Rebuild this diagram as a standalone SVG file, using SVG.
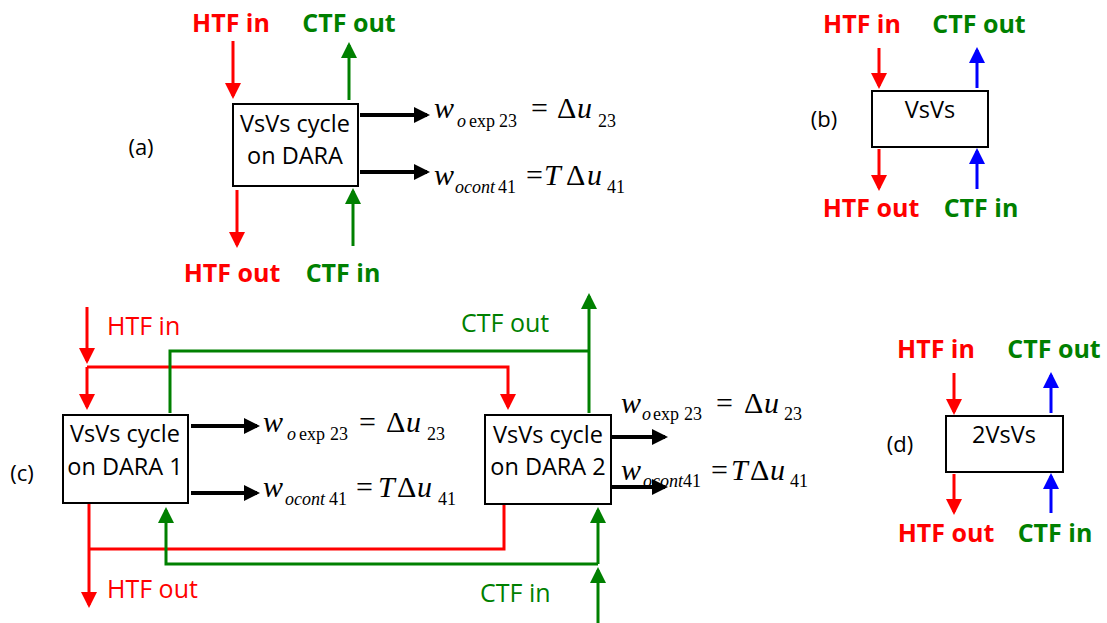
<svg xmlns="http://www.w3.org/2000/svg" width="1107" height="623" viewBox="0 0 1107 623">
<style>
.box{fill:#fff;stroke:#000;stroke-width:2}
.bt{font-family:"Open Sans","Noto Sans",sans-serif;font-size:23.5px;fill:#000;text-anchor:middle}
.lb{font-family:"Open Sans","Noto Sans",sans-serif;font-size:22px;fill:#000;text-anchor:middle}
.hb{font-family:"Open Sans","Noto Sans",sans-serif;font-size:25px;font-weight:bold;fill:#ff0000;text-anchor:middle}
.cb{font-family:"Open Sans","Noto Sans",sans-serif;font-size:25px;font-weight:bold;fill:#008000;text-anchor:middle}
.hr{font-family:"Open Sans","Noto Sans",sans-serif;font-size:25px;fill:#ff0000}
.cr{font-family:"Open Sans","Noto Sans",sans-serif;font-size:25px;fill:#008000}
.m{font-family:"Liberation Serif","Times New Roman",serif;font-size:30px;fill:#000}
.s{font-size:18px}
.i{font-style:italic}
.r{fill:none;stroke:#ff0000;stroke-width:3}
.g{fill:none;stroke:#008000;stroke-width:3}
.b{fill:none;stroke:#0000ff;stroke-width:3}
.k{fill:none;stroke:#000;stroke-width:4}
</style>
<defs>
<marker id="ar" markerUnits="userSpaceOnUse" markerWidth="16" markerHeight="16" viewBox="0 0 16 16" refX="13" refY="8" orient="auto"><path d="M0,0 L16,8 L0,16 z" fill="#ff0000"/></marker>
<marker id="ag" markerUnits="userSpaceOnUse" markerWidth="16" markerHeight="16" viewBox="0 0 16 16" refX="13" refY="8" orient="auto"><path d="M0,0 L16,8 L0,16 z" fill="#008000"/></marker>
<marker id="ab" markerUnits="userSpaceOnUse" markerWidth="16" markerHeight="16" viewBox="0 0 16 16" refX="13" refY="8" orient="auto"><path d="M0,0 L16,8 L0,16 z" fill="#0000ff"/></marker>
<marker id="ak" markerUnits="userSpaceOnUse" markerWidth="16" markerHeight="16" viewBox="0 0 16 16" refX="13" refY="8" orient="auto"><path d="M0,0 L16,8 L0,16 z" fill="#000"/></marker>
</defs>
<rect width="1107" height="623" fill="#fff"/>

<g id="connectors">
<!-- (a) -->
<path class="r" d="M233,41 V96" marker-end="url(#ar)"/>
<path class="g" d="M349,100 V45" marker-end="url(#ag)"/>
<path class="k" d="M360,115 H427" marker-end="url(#ak)"/>
<path class="k" d="M360,172 H427" marker-end="url(#ak)"/>
<path class="r" d="M237,190 V245" marker-end="url(#ar)"/>
<path class="g" d="M353,246 V191" marker-end="url(#ag)"/>
<!-- (b) -->
<path class="r" d="M879,48 V86" marker-end="url(#ar)"/>
<path class="b" d="M977,88 V50" marker-end="url(#ab)"/>
<path class="r" d="M879,149 V188" marker-end="url(#ar)"/>
<path class="b" d="M977,189 V151" marker-end="url(#ab)"/>
<!-- (d) -->
<path class="r" d="M954,373 V412" marker-end="url(#ar)"/>
<path class="b" d="M1051,413 V375" marker-end="url(#ab)"/>
<path class="r" d="M954,474 V512" marker-end="url(#ar)"/>
<path class="b" d="M1051,513 V476" marker-end="url(#ab)"/>
<!-- (c) -->
<path class="r" d="M87,307 V361" marker-end="url(#ar)"/>
<path class="r" d="M87,367 V407" marker-end="url(#ar)"/>
<path class="r" d="M87,367 H508 V407" marker-end="url(#ar)"/>
<path class="g" d="M170,413 V351 H589"/>
<path class="g" d="M589,413 V296" marker-end="url(#ag)"/>
<path class="k" d="M191,426 H257" marker-end="url(#ak)"/>
<path class="k" d="M191,493 H257" marker-end="url(#ak)"/>
<path class="k" d="M612,437 H665" marker-end="url(#ak)"/>
<path class="k" d="M612,487 H665" marker-end="url(#ak)"/>
<path class="r" d="M89,504 V605" marker-end="url(#ar)"/>
<path class="r" d="M504,505 V549 H89"/>
<path class="g" d="M598,623 V570" marker-end="url(#ag)"/>
<path class="g" d="M598,564 V510" marker-end="url(#ag)"/>
<path class="g" d="M598,564 H166 V510" marker-end="url(#ag)"/>
</g>

<g id="panel-a">
<text class="lb" x="141" y="155">(a)</text>
<g id="node-a">
<rect class="box" x="233" y="104" width="125" height="82"/>
<text class="bt" x="295" y="132">VsVs cycle</text>
<text class="bt" x="295" y="164">on DARA</text>
</g>
<text class="hb" x="231" y="32">HTF in</text>
<text class="cb" x="349" y="32">CTF out</text>
<text class="hb" x="232" y="282">HTF out</text>
<text class="cb" x="343" y="282">CTF in</text>
<text class="m"><tspan class="i" x="434" y="118">w</tspan><tspan class="s i" x="457" y="127">o</tspan><tspan class="s" x="469" y="127">exp</tspan><tspan class="s" x="499" y="127">23</tspan><tspan x="531" y="118">=</tspan><tspan x="557" y="118">Δ</tspan><tspan class="i" x="577" y="118">u</tspan><tspan class="s" x="598" y="127">23</tspan></text>
<text class="m"><tspan class="i" x="434" y="185">w</tspan><tspan class="s i" x="455" y="193">ocont</tspan><tspan class="s" x="498" y="193">41</tspan><tspan x="526" y="185">=</tspan><tspan class="i" x="544" y="185">T</tspan><tspan x="566" y="185">Δ</tspan><tspan class="i" x="587" y="185">u</tspan><tspan class="s" x="607" y="193">41</tspan></text>
</g>

<g id="panel-b">
<text class="lb" x="824" y="127">(b)</text>
<g id="node-b">
<rect class="box" x="872" y="91" width="116" height="56"/>
<text class="bt" x="930" y="118">VsVs</text>
</g>
<text class="hb" x="862" y="33">HTF in</text>
<text class="cb" x="979" y="33">CTF out</text>
<text class="hb" x="871" y="217">HTF out</text>
<text class="cb" x="981" y="217">CTF in</text>
</g>

<g id="panel-c">
<text class="lb" x="22" y="481">(c)</text>
<g id="node-c1">
<rect class="box" x="63" y="415" width="125" height="88"/>
<text class="bt" x="125" y="442">VsVs cycle</text>
<text class="bt" x="125" y="475">on DARA 1</text>
</g>
<g id="node-c2">
<rect class="box" x="485" y="415" width="126" height="89"/>
<text class="bt" x="548" y="443">VsVs cycle</text>
<text class="bt" x="548" y="475">on DARA 2</text>
</g>
<text class="hr" x="107" y="335">HTF in</text>
<text class="cr" x="461" y="332">CTF out</text>
<text class="hr" x="107" y="598">HTF out</text>
<text class="cr" x="480" y="602">CTF in</text>
<text class="m"><tspan class="i" x="263" y="432">w</tspan><tspan class="s i" x="287" y="440">o</tspan><tspan class="s" x="299" y="440">exp</tspan><tspan class="s" x="330" y="440">23</tspan><tspan x="359" y="432">=</tspan><tspan x="386" y="432">Δ</tspan><tspan class="i" x="406" y="432">u</tspan><tspan class="s" x="427" y="440">23</tspan></text>
<text class="m"><tspan class="i" x="263" y="497">w</tspan><tspan class="s i" x="285" y="505">ocont</tspan><tspan class="s" x="329" y="505">41</tspan><tspan x="356" y="497">=</tspan><tspan class="i" x="378" y="497">T</tspan><tspan x="397" y="497">Δ</tspan><tspan class="i" x="417" y="497">u</tspan><tspan class="s" x="438" y="505">41</tspan></text>
<text class="m"><tspan class="i" x="621" y="413">w</tspan><tspan class="s i" x="642" y="420">o</tspan><tspan class="s" x="653" y="420">exp</tspan><tspan class="s" x="684" y="420">23</tspan><tspan x="716" y="413">=</tspan><tspan x="744" y="413">Δ</tspan><tspan class="i" x="764" y="413">u</tspan><tspan class="s" x="784" y="420">23</tspan></text>
<text class="m"><tspan class="i" x="621" y="480">w</tspan><tspan class="s i" x="643" y="487">ocont</tspan><tspan class="s" x="683" y="487">41</tspan><tspan x="711" y="480">=</tspan><tspan class="i" x="731" y="480">T</tspan><tspan x="750" y="480">Δ</tspan><tspan class="i" x="770" y="480">u</tspan><tspan class="s" x="790" y="487">41</tspan></text>
</g>

<g id="panel-d">
<text class="lb" x="900" y="452">(d)</text>
<g id="node-d">
<rect class="box" x="946" y="416" width="117" height="56"/>
<text class="bt" x="1004" y="443">2VsVs</text>
</g>
<text class="hb" x="936" y="358">HTF in</text>
<text class="cb" x="1054" y="358">CTF out</text>
<text class="hb" x="946" y="542">HTF out</text>
<text class="cb" x="1055" y="542">CTF in</text>
</g>
</svg>
